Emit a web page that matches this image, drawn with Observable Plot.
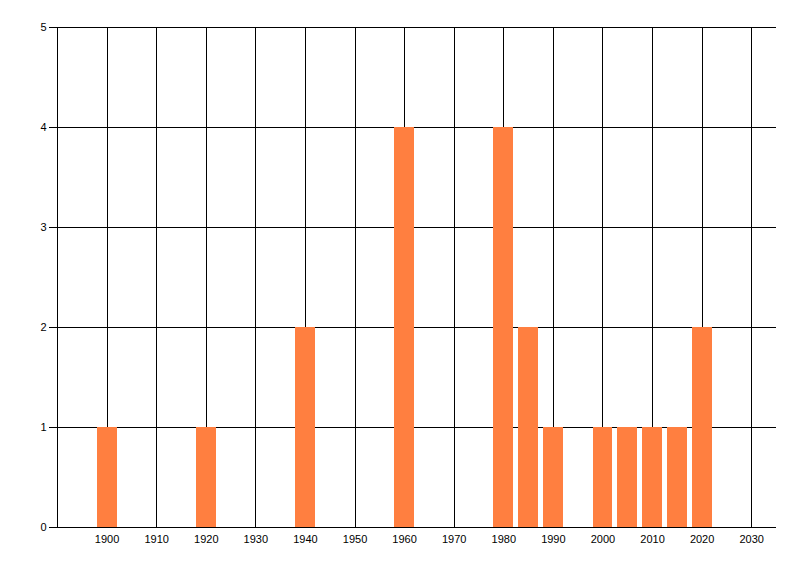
<!DOCTYPE html>
<html>
<head>
<meta charset="utf-8">
<script src="https://cdn.jsdelivr.net/npm/d3@7"></script>
<script src="https://cdn.jsdelivr.net/npm/@observablehq/plot@0.6"></script>
<style>
  html, body { margin: 0; padding: 0; background: #fff; }
  svg { display: block; }
</style>
</head>
<body>
<div id="chart"></div>
<script>
const years  = [1900, 1920, 1940, 1960, 1980, 1985, 1990, 2000, 2005, 2010, 2015, 2020];
const counts = [1, 1, 2, 4, 4, 2, 1, 1, 1, 1, 1, 2];
const xTicks = [1900, 1910, 1920, 1930, 1940, 1950, 1960, 1970, 1980, 1990, 2000, 2010, 2020, 2030];
const yTicks = [0, 1, 2, 3, 4, 5];
const barHalfWidth = 2;

const data = years.map((y, i) => ({year: y, count: counts[i]}));

const chart = Plot.plot({
  width: 800,
  height: 576,
  marginLeft: 57,
  marginRight: 24,
  marginTop: 27,
  marginBottom: 49,
  style: {fontFamily: "Liberation Sans, Arial, sans-serif", fontSize: "11px", color: "#000", background: "#fff"},
  x: {domain: [1890, 2035]},
  y: {domain: [0, 5]},
  marks: [
    Plot.ruleX([1890, ...xTicks], {stroke: "#000", strokeWidth: 1, shapeRendering: "crispEdges"}),
    Plot.ruleY(yTicks, {stroke: "#000", strokeWidth: 1, shapeRendering: "crispEdges"}),
    Plot.rectY(data, {
      x1: d => d.year - barHalfWidth,
      x2: d => d.year + barHalfWidth,
      y: "count",
      fill: "#ff7f40",
      shapeRendering: "crispEdges"
    }),
    Plot.axisY({ticks: yTicks, tickSize: 8, tickPadding: 3, tickFormat: d => String(d), label: null, stroke: "#000", strokeWidth: 1, shapeRendering: "crispEdges"}),
    Plot.axisX({ticks: xTicks, tickSize: 0, tickPadding: 8, tickFormat: d => String(d), label: null})
  ]
});
document.getElementById("chart").appendChild(chart);
</script>
</body>
</html>
